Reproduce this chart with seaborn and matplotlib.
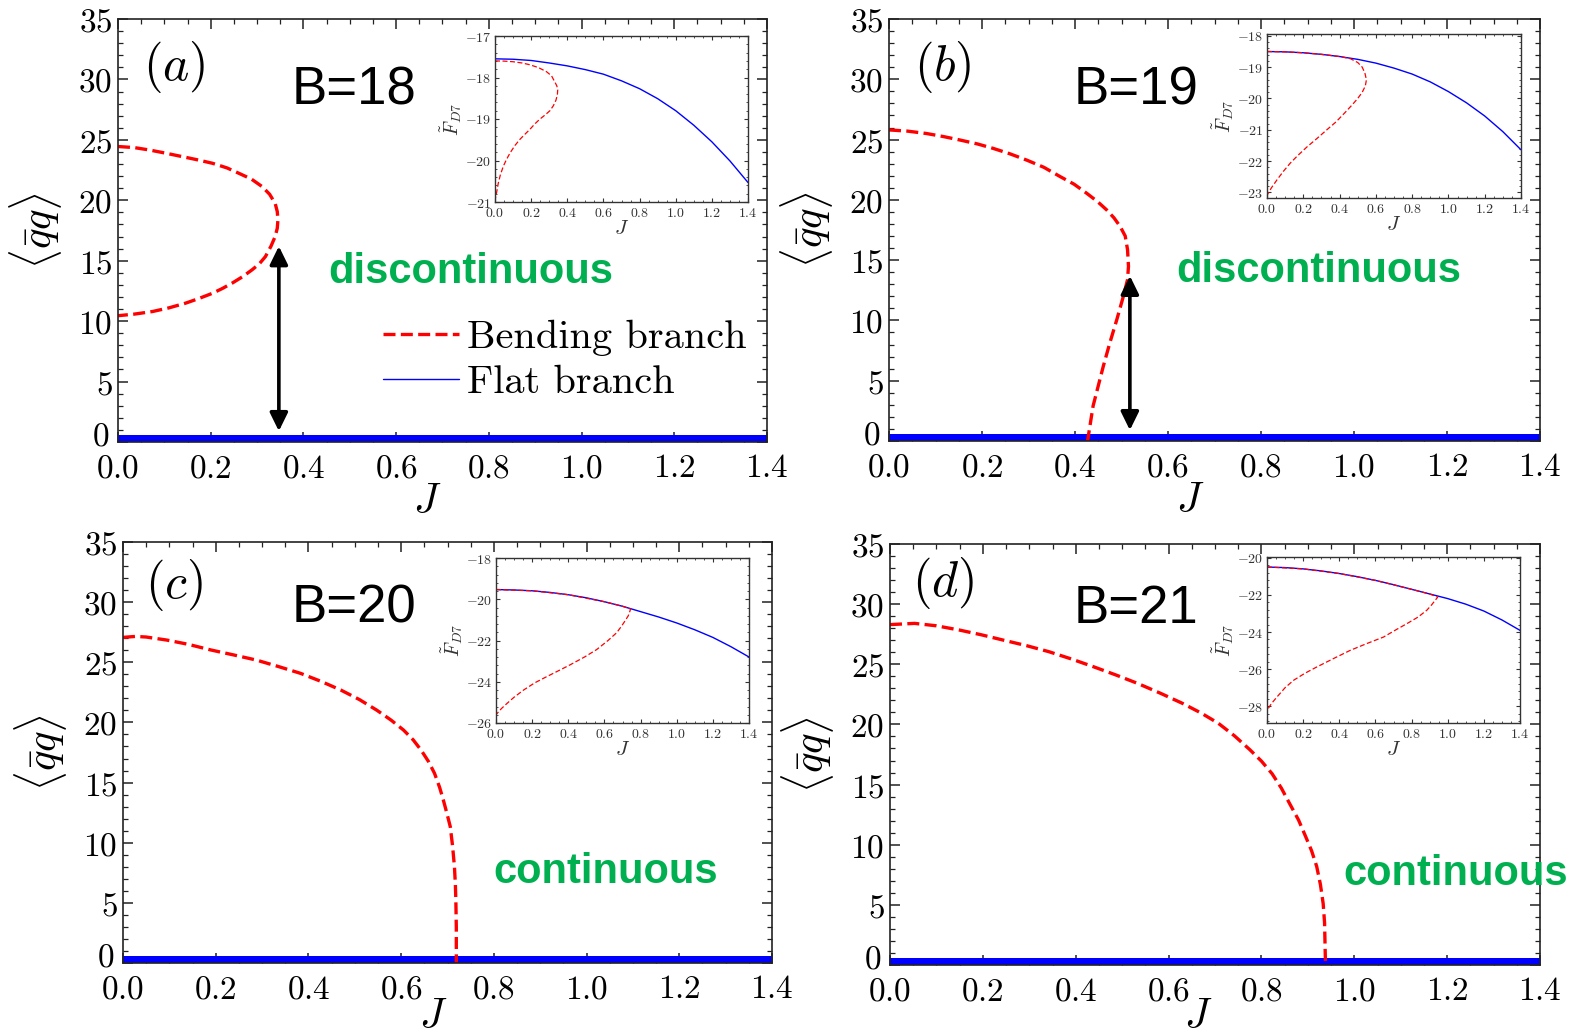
import numpy as np
import pandas as pd
import matplotlib
matplotlib.use("Agg")
import matplotlib.pyplot as plt
import seaborn as sns
from matplotlib.ticker import MultipleLocator, FuncFormatter
from matplotlib.lines import Line2D

# ---------------- data ----------------
# main panels: bending branch <qbar q>(J)
a_bend_J = [0.0, 0.035, 0.068, 0.10, 0.139, 0.17, 0.204, 0.235, 0.261, 0.288, 0.311, 0.327, 0.339, 0.3436, 0.345,
            0.3436, 0.339, 0.33, 0.318, 0.305, 0.289, 0.268, 0.246, 0.225, 0.204, 0.175, 0.146, 0.11, 0.075, 0.035, 0.0]
a_bend_q = [24.45, 24.36, 24.16, 23.92, 23.61, 23.36, 23.06, 22.68, 22.23, 21.75, 21.13, 20.5, 19.75, 19.06, 18.37,
            17.69, 17.0, 16.2, 15.34, 14.75, 14.24, 13.66, 13.14, 12.7, 12.31, 11.88, 11.49, 11.1, 10.8, 10.58, 10.45]

b_bend_J = [0.0, 0.04, 0.081, 0.117, 0.153, 0.19, 0.224, 0.26, 0.296, 0.333, 0.368, 0.398, 0.425, 0.448, 0.468, 0.484,
            0.497, 0.508, 0.513, 0.515, 0.513, 0.504, 0.490, 0.475, 0.461, 0.450, 0.439, 0.427]
b_bend_q = [25.8, 25.7, 25.5, 25.25, 24.96, 24.64, 24.27, 23.82, 23.3, 22.7, 21.93, 21.3, 20.55, 19.87, 19.17, 18.5,
            17.8, 17.0, 15.87, 14.49, 13.39, 12.0, 10.08, 8.15, 6.22, 4.57, 2.92, 0.0]

c_bend_J = [0.0, 0.027, 0.05, 0.094, 0.14, 0.19, 0.24, 0.287, 0.335, 0.383, 0.428, 0.47, 0.51, 0.547, 0.578, 0.605,
            0.626, 0.643, 0.659, 0.672, 0.683, 0.691, 0.699, 0.706, 0.711, 0.715, 0.717, 0.718, 0.719, 0.719]
c_bend_q = [27.07, 27.15, 27.1, 26.85, 26.5, 26.02, 25.6, 25.19, 24.65, 24.08, 23.4, 22.69, 21.9, 21.03, 20.2, 19.37,
            18.55, 17.7, 16.75, 15.77, 14.6, 13.55, 12.4, 11.33, 9.7, 8.0, 6.5, 5.24, 3.0, 0.0]

d_bend_J = [0.0, 0.053, 0.1, 0.149, 0.197, 0.245, 0.294, 0.342, 0.39, 0.438, 0.486, 0.534, 0.582, 0.63, 0.67, 0.707,
            0.742, 0.775, 0.8, 0.823, 0.843, 0.861, 0.88, 0.895, 0.908, 0.919, 0.927, 0.933, 0.936, 0.938]
d_bend_q = [28.3, 28.4, 28.2, 27.85, 27.45, 27.0, 26.55, 26.05, 25.45, 24.8, 24.12, 23.4, 22.6, 21.75, 20.95, 20.1,
            19.05, 17.9, 16.95, 15.9, 14.7, 13.4, 12.05, 10.7, 9.5, 8.2, 6.7, 5.1, 3.5, 0.0]

flat_J = [0.0, 1.4]
flat_q = [0.0, 0.0]

# transition arrows (J, from q, to q)
a_arrow = (0.347, 16.2, 0.9)
b_arrow = (0.518, 13.7, 0.9)

# insets: free energy F_D7(J)
grid_J = [0.0, 0.1, 0.2, 0.3, 0.4, 0.5, 0.6, 0.7, 0.8, 0.9, 1.0, 1.1, 1.2, 1.3, 1.4]
ia_flat_F = [-17.55, -17.56, -17.59, -17.65, -17.72, -17.81, -17.92, -18.08, -18.27, -18.51, -18.80, -19.15, -19.55, -20.01, -20.53]
ia_bend_J = [0.0, 0.05, 0.1, 0.15, 0.19, 0.24, 0.285, 0.313, 0.33, 0.342, 0.347, 0.345, 0.337, 0.323, 0.304, 0.278,
             0.249, 0.22, 0.193, 0.165, 0.138, 0.11, 0.083, 0.063, 0.046, 0.03, 0.018, 0.006, 0.0]
ia_bend_F = [-17.6, -17.605, -17.62, -17.65, -17.69, -17.76, -17.86, -17.96, -18.1, -18.2, -18.3, -18.42, -18.55,
             -18.68, -18.8, -18.9, -19.0, -19.12, -19.25, -19.37, -19.49, -19.64, -19.82, -19.98, -20.14, -20.34,
             -20.55, -20.84, -20.95]

ib_flat_F = [-18.5, -18.51, -18.54, -18.59, -18.66, -18.75, -18.87, -19.03, -19.22, -19.47, -19.78, -20.14, -20.56, -21.06, -21.64]
ib_bend_J = [0.0, 0.1, 0.2, 0.3, 0.4, 0.46, 0.5, 0.525, 0.54, 0.548, 0.542, 0.525, 0.5, 0.47, 0.43, 0.38, 0.33,
             0.275, 0.22, 0.17, 0.129, 0.09, 0.055, 0.025, 0.009, 0.0]
ib_bend_F = [-18.5, -18.51, -18.54, -18.59, -18.66, -18.73, -18.85, -19.0, -19.2, -19.4, -19.6, -19.8, -20.0, -20.2,
             -20.45, -20.75, -21.0, -21.28, -21.55, -21.82, -22.06, -22.33, -22.6, -22.85, -23.0, -23.1]

ic_flat_F = [-19.53, -19.55, -19.59, -19.67, -19.78, -19.93, -20.12, -20.34, -20.6, -20.86, -21.15, -21.48, -21.85, -22.3, -22.8]
ic_bend_J = [0.0, 0.2, 0.4, 0.6, 0.7, 0.745, 0.74, 0.732, 0.714, 0.695, 0.668, 0.62, 0.557, 0.49, 0.41, 0.345,
             0.281, 0.215, 0.153, 0.1, 0.061, 0.03, 0.0]
ic_bend_F = [-19.53, -19.59, -19.78, -20.12, -20.34, -20.47, -20.6, -20.8, -21.05, -21.3, -21.62, -22.0, -22.44,
             -22.8, -23.18, -23.47, -23.75, -24.05, -24.4, -24.75, -25.05, -25.3, -25.6]

id_flat_F = [-20.5, -20.53, -20.6, -20.71, -20.85, -21.02, -21.22, -21.45, -21.7, -21.95, -22.2, -22.5, -22.87, -23.35, -23.91]
id_bend_J = [0.0, 0.2, 0.4, 0.6, 0.8, 0.9, 0.945, 0.93, 0.91, 0.884, 0.835, 0.774, 0.71, 0.645, 0.55, 0.46, 0.37,
             0.276, 0.21, 0.147, 0.1, 0.055, 0.025, 0.0]
id_bend_F = [-20.5, -20.6, -20.85, -21.22, -21.7, -21.95, -22.12, -22.3, -22.55, -22.83, -23.2, -23.55, -23.9,
             -24.27, -24.63, -24.99, -25.42, -25.88, -26.22, -26.6, -27.0, -27.5, -27.85, -28.22]

panel_tags = [r'$(a)$', r'$(b)$', r'$(c)$', r'$(d)$']
panel_B = ['B=18', 'B=19', 'B=20', 'B=21']
panel_kind = ['discontinuous', 'discontinuous', 'continuous', 'continuous']
legend_labels = ['Bending branch', 'Flat branch']

# ---------------- style ----------------
sns.set_style("ticks")
plt.rcParams['mathtext.fontset'] = 'cm'
plt.rcParams['font.family'] = ['DejaVu Serif']
plt.rcParams['axes.unicode_minus'] = True
for k in ['text.color', 'axes.labelcolor', 'xtick.color', 'ytick.color']:
    plt.rcParams[k] = 'black'

W, H = 1580, 1035
fig = plt.figure(figsize=(W / 100, H / 100), dpi=100, facecolor='white')

def px_axes(l, t, r, b):
    return fig.add_axes([l / W, 1 - b / H, (r - l) / W, (b - t) / H])

main_boxes = [(118, 19, 767, 442), (889, 19, 1540, 441), (123, 542, 772, 963), (890, 544, 1540, 965)]
inset_boxes = [(495, 36, 748, 202), (1267, 34, 1521, 198), (496, 558, 749, 723), (1267, 557, 1520, 723)]
bends = [(a_bend_J, a_bend_q), (b_bend_J, b_bend_q), (c_bend_J, c_bend_q), (d_bend_J, d_bend_q)]
insets = [(ia_flat_F, ia_bend_J, ia_bend_F, (-21, -17), 1, 0.2),
          (ib_flat_F, ib_bend_J, ib_bend_F, (-23.18, -17.94), 1, 0.2),
          (ic_flat_F, ic_bend_J, ic_bend_F, (-26, -18), 2, 0.4),
          (id_flat_F, id_bend_J, id_bend_F, (-28.9, -19.96), 2, 0.4)]
arrows = [a_arrow, b_arrow, None, None]

tag_pos = [(0.086, 0.887), (0.082, 0.887), (0.079, 0.898), (0.081, 0.907)]
B_pos = [(0.268, 0.797), (0.283, 0.797), (0.26, 0.808), (0.282, 0.812)]
kind_pos = [(0.3236, 0.376), (0.442, 0.376), (0.570, 0.19), (0.697, 0.19)]
xlab_pos = [(0.476, -0.09), (0.462, -0.09), (0.478, -0.076), (0.474, -0.072)]

green = '#00B050'
dash_main = (3.6, 1.6)

def ylab_main(v, p):
    if abs(v) < 1e-9:
        return ''
    return f'${v:.0f}$'

for i in range(4):
    ax = px_axes(*main_boxes[i])
    bJ, bq = bends[i]
    sns.lineplot(x=flat_J, y=flat_q, ax=ax, color='#0000FF', linewidth=10.8, sort=False, estimator=None)
    sns.lineplot(x=bJ, y=bq, ax=ax, color='#FF0000', linewidth=2.4, sort=False, estimator=None)
    ax.lines[-1].set_dashes(dash_main)
    ax.set_xlim(0, 1.4)
    ax.set_ylim(0, 35)
    ax.xaxis.set_major_locator(MultipleLocator(0.2))
    ax.xaxis.set_minor_locator(MultipleLocator(0.05))
    ax.yaxis.set_major_locator(MultipleLocator(5))
    ax.yaxis.set_minor_locator(MultipleLocator(1))
    ax.xaxis.set_major_formatter(FuncFormatter(lambda v, p: f'${v:.1f}$'))
    ax.yaxis.set_major_formatter(FuncFormatter(ylab_main))
    ax.tick_params(which='both', direction='in', top=True, right=True, colors='#222222')
    ax.tick_params(which='major', length=7, width=1.1, labelsize=24, labelcolor='black')
    ax.tick_params(which='minor', length=3.5, width=0.9)
    ax.tick_params(axis='x', which='major', pad=7.5)
    ax.tick_params(axis='y', which='major', pad=4)
    for s in ax.spines.values():
        s.set_linewidth(1.2)
        s.set_color('#222222')
    # raised zero label, as in the reference
    ax.annotate('$0$', xy=(0, 0), xycoords=('axes fraction', 'data'), xytext=(-6, 4),
                textcoords='offset points', ha='right', va='center', fontsize=24)
    ax.set_xlabel(r'$J$', fontsize=30)
    ax.set_ylabel(r'$\langle \bar{q} q \rangle$', fontsize=31)
    ax.xaxis.set_label_coords(*xlab_pos[i])
    ax.yaxis.set_label_coords(-0.083, 0.5)

    ax.text(*tag_pos[i], panel_tags[i], transform=ax.transAxes, fontsize=36, ha='center', va='center')
    ax.text(*B_pos[i], panel_B[i], transform=ax.transAxes, fontsize=38, ha='left', va='baseline',
            family='Liberation Sans', color='black')
    ax.text(*kind_pos[i], panel_kind[i], transform=ax.transAxes, fontsize=30, ha='left', va='baseline',
            family='Liberation Sans', fontweight='bold', color=green)

    if arrows[i] is not None:
        aj, q0, q1 = arrows[i]
        ax.annotate('', xy=(aj, q1), xytext=(aj, q0),
                    arrowprops=dict(arrowstyle='<|-|>,head_length=0.55,head_width=0.27', mutation_scale=20,
                                    lw=2.6, color='black', shrinkA=0, shrinkB=0))

    if i == 0:
        handles = [Line2D([], [], color='#FF0000', lw=2.4, dashes=dash_main),
                   Line2D([], [], color='#0000FF', lw=1.0)]
        ax.legend(handles, legend_labels, loc='upper left', bbox_to_anchor=(0.408, 0.29),
                  frameon=False, prop={'family': 'cmr10', 'size': 29}, handlelength=1.9,
                  handletextpad=0.2, labelspacing=0.22, borderpad=0, borderaxespad=0)

    # inset
    flatF, iJ, iF, ylim, ymaj, ymin = insets[i]
    ia = px_axes(*inset_boxes[i])
    ia.set_facecolor('white')
    sns.lineplot(x=grid_J, y=flatF, ax=ia, color='#0000FF', linewidth=1.0, sort=False, estimator=None)
    sns.lineplot(x=iJ, y=iF, ax=ia, color='#FF0000', linewidth=0.9, sort=False, estimator=None)
    ia.lines[-1].set_dashes((4, 2))
    ia.set_xlim(0, 1.4)
    ia.set_ylim(*ylim)
    ia.xaxis.set_major_locator(MultipleLocator(0.2))
    ia.xaxis.set_minor_locator(MultipleLocator(0.05))
    ia.yaxis.set_major_locator(MultipleLocator(ymaj))
    ia.yaxis.set_minor_locator(MultipleLocator(ymin))
    ia.xaxis.set_major_formatter(FuncFormatter(lambda v, p: f'${v:.1f}$'))
    ia.yaxis.set_major_formatter(FuncFormatter(lambda v, p: f'${v:.0f}$'))
    ia.tick_params(which='both', direction='in', top=True, right=True, colors='#333333')
    ia.tick_params(which='major', length=3, width=0.8, labelsize=10, labelcolor='#333333')
    ia.tick_params(axis='x', which='major', pad=3)
    ia.tick_params(axis='y', which='major', pad=2.5)
    ia.tick_params(which='minor', length=1.5, width=0.6)
    for s in ia.spines.values():
        s.set_linewidth(1.0)
        s.set_color('#333333')
    ia.set_xlabel(r'$J$', fontsize=15, color='#333333', labelpad=-1)
    ia.set_ylabel(r'$\tilde{F}_{D7}$', fontsize=14, color='#333333', labelpad=1)

fig.savefig('out.png', dpi=100, facecolor='white')
